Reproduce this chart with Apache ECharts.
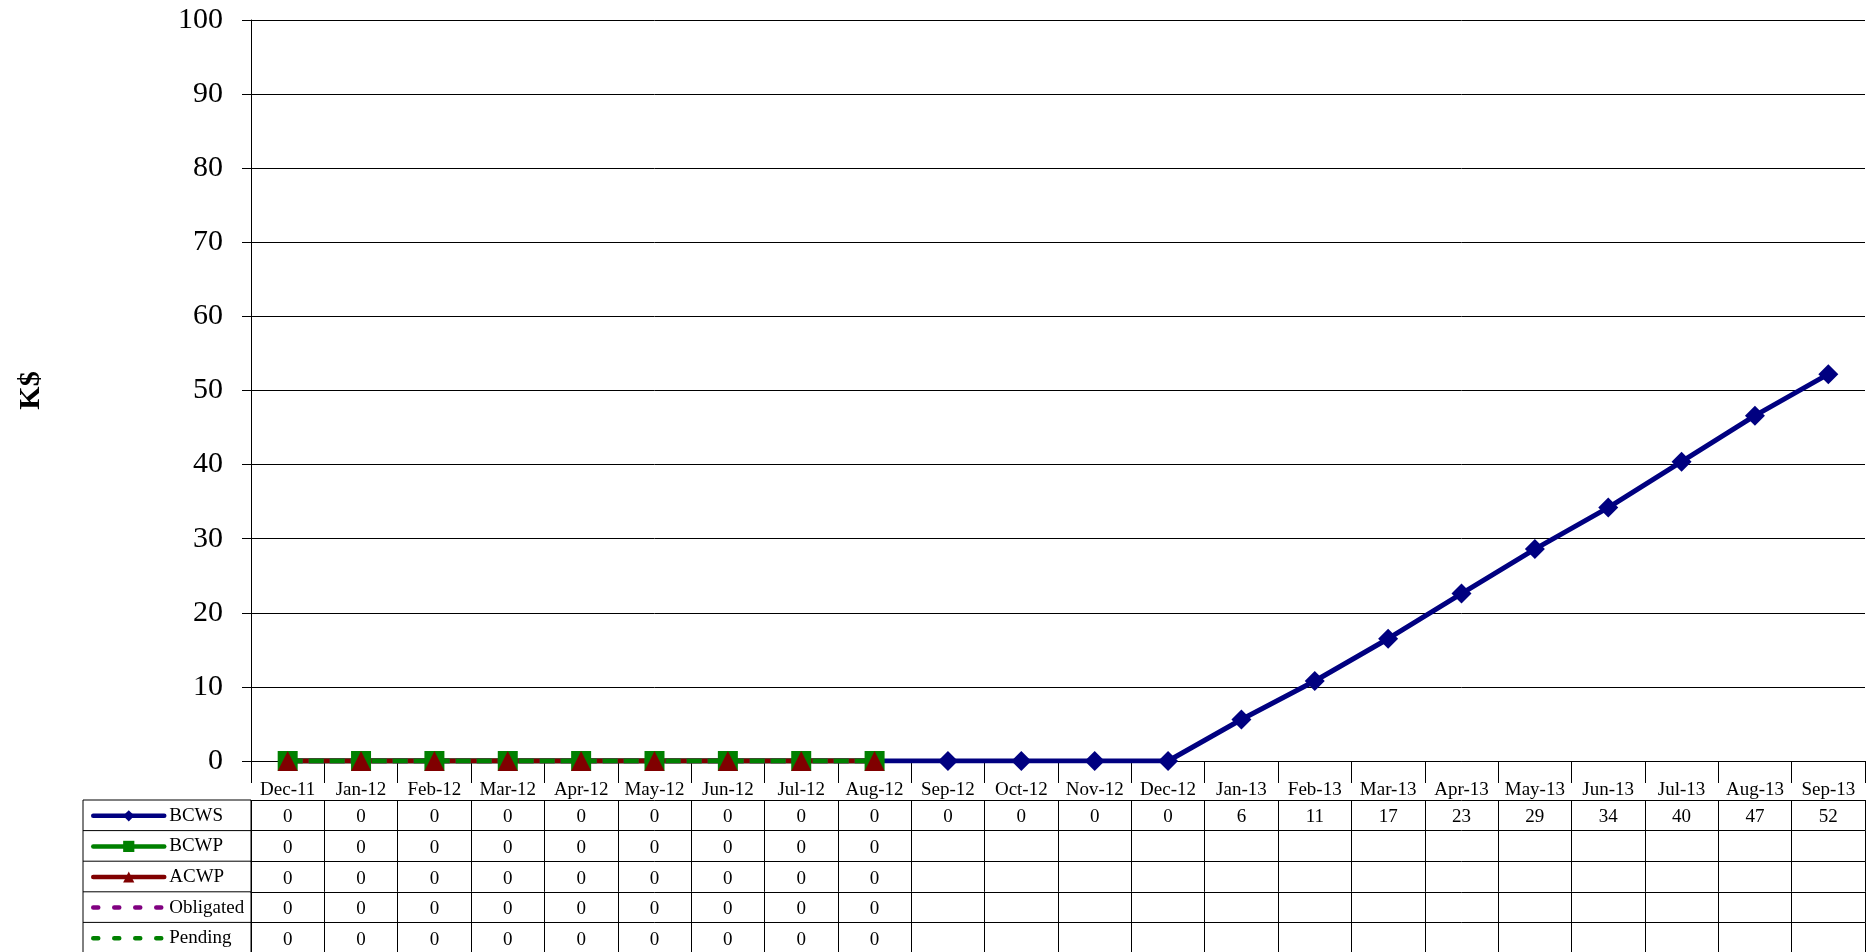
<!DOCTYPE html>
<html><head><meta charset="utf-8">
<script src="https://cdn.jsdelivr.net/npm/echarts@6/dist/echarts.min.js"></script>
<style>html,body{margin:0;padding:0;background:#fff}#c{width:1875px;height:952px}</style>
</head><body><div id="c"></div>
<script>
const categories = ['Dec-11','Jan-12','Feb-12','Mar-12','Apr-12','May-12','Jun-12','Jul-12','Aug-12','Sep-12','Oct-12','Nov-12','Dec-12','Jan-13','Feb-13','Mar-13','Apr-13','May-13','Jun-13','Jul-13','Aug-13','Sep-13'];
const bcws = [0,0,0,0,0,0,0,0,0,0,0,0,0,5.6,10.8,16.5,22.6,28.6,34.2,40.4,46.6,52.2];
const bcwp = [0,0,0,0,0,0,0,0,0];
const acwp = [0,0,0,0,0,0,0,0,0];
const obligated = [0,0,0,0,0,0,0,0,0];
const pending = [0,0,0,0,0,0,0,0,0];
const seriesNames = ['BCWS','BCWP','ACWP','Obligated','Pending'];
const yMin = 0, yMax = 100, yStep = 10;

const rows = [bcws, bcwp, acwp, obligated, pending];
const FONT = 'Liberation Serif';
const gridLeft = 251, gridRight = 10, gridTop = 20, gridBottom = 191;
const H = 952;
const axisY = H - gridBottom;          // y of value 0
const headerOffset = 17;
const headerH = 22;
const rowH = 30.6;
const legendColLeft = 83;

const chart = echarts.init(document.getElementById('c'), null, {renderer: 'canvas'});

const rowAxes = rows.map((r, k) => ({
  type: 'category',
  data: categories,
  gridIndex: 0,
  position: 'bottom',
  offset: headerOffset + headerH + k * rowH,
  boundaryGap: true,
  axisLine: {show: true, lineStyle: {color: '#000', width: 1}},
  axisTick: {show: true, interval: 0, length: rowH, lineStyle: {color: '#000', width: 1}},
  axisLabel: {
    interval: 0, margin: 8, color: '#000', fontFamily: FONT, fontSize: 19,
    formatter: (v, i) => (r[i] == null ? '' : String(Math.round(r[i])))
  },
  splitLine: {show: false}
}));

const styles = [
  {color: '#000080', symbol: 'diamond', symbolSize: 20, type: 'solid', dashed: false},
  {color: '#008000', symbol: 'rect', symbolSize: 20, type: 'solid', dashed: false},
  {color: '#800000', symbol: 'triangle', symbolSize: 20, type: 'solid', dashed: false},
  {color: '#800080', symbol: 'circle', symbolSize: 1, type: [15, 6], dashed: true},
  {color: '#008000', symbol: 'circle', symbolSize: 1, type: [15, 6], dashed: true}
];

const series = rows.map((r, k) => ({
  name: seriesNames[k],
  type: 'line',
  data: r,
  xAxisIndex: 0,
  yAxisIndex: 0,
  symbol: styles[k].symbol,
  symbolSize: styles[k].symbolSize,
  showSymbol: !styles[k].dashed,
  itemStyle: styles[k].dashed
    ? {color: 'rgba(0,0,0,0)', borderWidth: 0, borderColor: 'rgba(0,0,0,0)'}
    : {color: styles[k].color, borderWidth: 0},
  lineStyle: {color: styles[k].color, width: 5, type: styles[k].type, cap: 'butt'},
  emphasis: {disabled: true}
}));

const legends = seriesNames.map((n, k) => ({
  data: [n],
  orient: 'horizontal',
  left: legendColLeft + 8,
  top: axisY + headerOffset + headerH + k * rowH + rowH / 2 - 9,
  itemWidth: 71,
  itemHeight: 14,
  padding: 0,
  selectedMode: false,
  lineStyle: styles[k].dashed
    ? {width: 4.5, type: [5, 16], cap: 'round', color: styles[k].color}
    : {width: 4.5, type: 'solid', cap: 'round', color: styles[k].color},
  textStyle: {fontFamily: FONT, fontSize: 19, color: '#000', padding: [0, 0, 0, 0]}
}));

const tableTop = axisY + headerOffset + headerH;
const graphics = [];
for (let k = 0; k < rows.length; k++) {
  const y = tableTop + k * rowH;
  graphics.push({type: 'line', shape: {x1: legendColLeft, y1: y, x2: gridLeft, y2: y}, style: {stroke: '#000', lineWidth: 1}});
}
graphics.push({type: 'line', shape: {x1: legendColLeft, y1: tableTop, x2: legendColLeft, y2: H}, style: {stroke: '#000', lineWidth: 1}});
graphics.push({type: 'line', shape: {x1: gridLeft, y1: tableTop, x2: gridLeft, y2: H}, style: {stroke: '#000', lineWidth: 1}});

chart.setOption({
  animation: false,
  backgroundColor: '#fff',
  grid: {left: gridLeft, right: gridRight, top: gridTop, bottom: gridBottom, containLabel: false},
  legend: legends,
  xAxis: [{
    type: 'category',
    data: categories,
    position: 'bottom',
    offset: headerOffset,
    boundaryGap: true,
    axisLine: {show: true, lineStyle: {color: '#000', width: 1}},
    axisTick: {show: true, interval: 0, length: headerH, lineStyle: {color: '#000', width: 1}},
    axisLabel: {interval: 0, margin: 3, color: '#000', fontFamily: FONT, fontSize: 19},
    splitLine: {show: false}
  }].concat(rowAxes),
  yAxis: {
    type: 'value',
    min: yMin, max: yMax, interval: yStep,
    name: 'K$',
    nameLocation: 'middle',
    nameRotate: 90,
    nameGap: 205,
    nameTextStyle: {fontFamily: FONT, fontSize: 30, fontWeight: 'bold', color: '#000'},
    axisLine: {show: true, lineStyle: {color: '#000', width: 1}},
    axisTick: {show: true, length: 9, lineStyle: {color: '#000', width: 1}},
    axisLabel: {margin: 28, color: '#000', fontFamily: FONT, fontSize: 30},
    splitLine: {show: true, lineStyle: {color: '#000', width: 1}}
  },
  graphic: graphics,
  series: series
});
</script>
</body></html>
